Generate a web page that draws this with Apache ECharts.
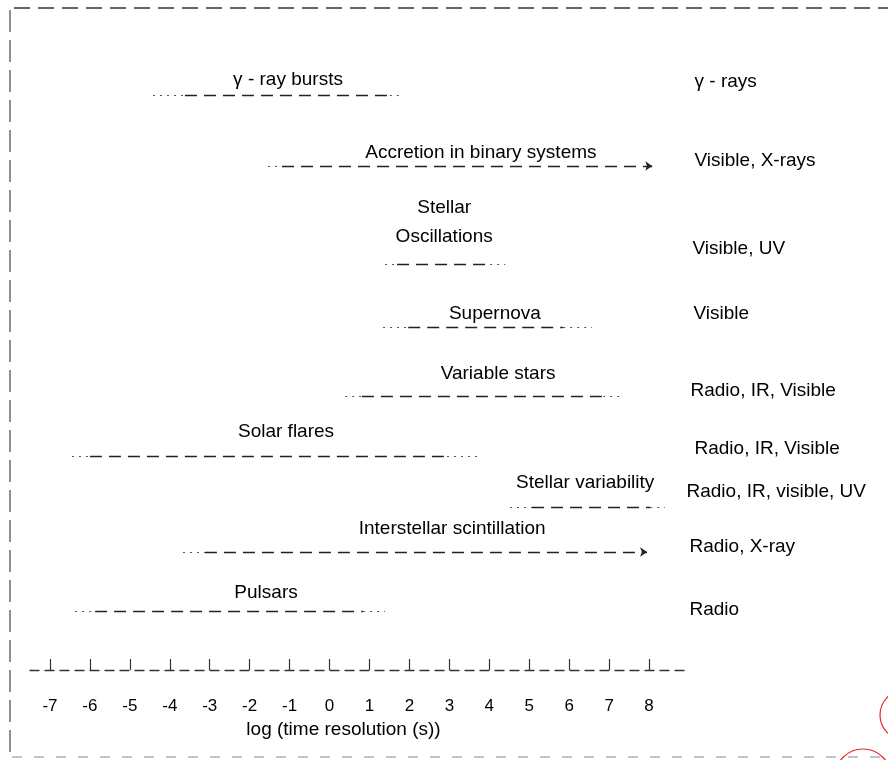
<!DOCTYPE html>
<html>
<head>
<meta charset="utf-8">
<script src="https://cdn.jsdelivr.net/npm/echarts@6/dist/echarts.min.js"></script>
<style>html,body{margin:0;padding:0;background:#fff}#c{width:888px;height:760px}</style>
</head>
<body>
<div id="c"></div>
<script>
// ---- data (log10 of time resolution in seconds) ----
const phenomena = ['γ - ray bursts', 'Accretion in binary systems', 'Stellar\nOscillations', 'Supernova',
  'Variable stars', 'Solar flares', 'Stellar variability', 'Interstellar scintillation', 'Pulsars'];
const bands = ['γ - rays', 'Visible, X-rays', 'Visible, UV', 'Visible', 'Radio, IR, Visible',
  'Radio, IR, Visible', 'Radio, IR, visible, UV', 'Radio, X-ray', 'Radio'];
const dotStart  = [-4.42, -1.54, 1.39, 1.34, 0.39, -6.45, 4.52, -3.67, -6.37];
const dashStart = [-3.62, -1.19, 1.69, 1.97, 0.81, -6.00, 5.07, -3.12, -5.87];
const dashEnd   = [1.51, 8.08, 4.02, 5.85, 6.85, 2.94, 8.03, 7.95, 0.84];
const dotEnd    = [1.84, null, 4.40, 6.57, 7.35, 3.77, 8.40, null, 1.39];
const openEnded = [false, true, false, false, false, false, false, true, false];
const tickValues = [-7, -6, -5, -4, -3, -2, -1, 0, 1, 2, 3, 4, 5, 6, 7, 8];
const axisName = 'log (time resolution (s))';

// ---- layout (vertical row levels, label anchors) ----
const rowLevel   = [95, 166, 264, 327, 396, 456, 507, 552, 611];
const labelLevel = [80, 153, 222, 314, 374, 432, 483, 529, 593];
const labelAt    = [-1.04, 3.79, 2.87, 4.14, 4.22, -1.09, 6.40, 3.07, -1.59];
const bandLevel  = [82, 161, 249, 314, 391, 449, 492, 547, 610];
const bandShift  = [5, 5, 3, 4, 1, 5, -3, 0, 0];
const X_MIN = -7.5, X_MAX = 9;

const FONT = '"Liberation Sans", Arial, sans-serif';
const INK = '#000';

const dashed = [], dashedArrow = [], dotted = [];
for (let i = 0; i < phenomena.length; i++) {
  const y = rowLevel[i];
  dotted.push({ coords: [[dotStart[i], y], [dashStart[i], y]] });
  (openEnded[i] ? dashedArrow : dashed).push({ coords: [[dashStart[i], y], [dashEnd[i], y]] });
  if (dotEnd[i] != null) dotted.push({ coords: [[dashEnd[i], y], [dotEnd[i], y]] });
}
const labelData = phenomena.map((p, i) => ({ value: [labelAt[i], labelLevel[i]], name: p }));
const bandData = bands.map((b, i) => ({ value: [X_MAX, bandLevel[i]], name: b,
  label: { offset: [bandShift[i], 0] } }));

const textStyle = { fontFamily: FONT, fontSize: 19, color: INK, opacity: 1,
  textBorderWidth: 0, textShadowBlur: 0 };

const chart = echarts.init(document.getElementById('c'), null, { renderer: 'canvas' });
chart.setOption({
  animation: false,
  backgroundColor: '#ffffff',
  grid: { left: 30, right: 199, top: 0, bottom: 90 },
  xAxis: {
    type: 'value', min: X_MIN, max: X_MAX, position: 'bottom',
    name: axisName, nameLocation: 'middle', nameGap: 48,
    nameTextStyle: { fontFamily: FONT, fontSize: 19, color: INK, padding: [0, 32, 0, 0] },
    axisLine: { show: true, onZero: false, lineStyle: { color: '#333', width: 1.3, type: [9, 6] } },
    axisTick: { show: true, inside: true, length: 11, customValues: tickValues,
      lineStyle: { color: '#333', width: 1.2 } },
    axisLabel: { customValues: tickValues, margin: 28, fontFamily: FONT, fontSize: 17, color: INK,
      formatter: v => String(v) },
    splitLine: { show: false }
  },
  yAxis: { type: 'value', min: 0, max: 670, inverse: true, show: false },
  series: [
    { type: 'lines', coordinateSystem: 'cartesian2d', data: dashed, symbol: ['none', 'none'],
      lineStyle: { color: '#222', width: 1.4, type: [12, 7], opacity: 1 } },
    { type: 'lines', coordinateSystem: 'cartesian2d', data: dashedArrow,
      symbol: ['none', 'arrow'], symbolSize: 7,
      lineStyle: { color: '#222', width: 1.4, type: [12, 7], opacity: 1 } },
    { type: 'lines', coordinateSystem: 'cartesian2d', data: dotted, symbol: ['none', 'none'],
      lineStyle: { color: '#555', width: 1.2, type: [2, 5], opacity: 1 } },
    { type: 'scatter', data: labelData, symbolSize: 1, itemStyle: { color: 'rgba(0,0,0,0)' },
      label: Object.assign({ show: true, position: 'inside', formatter: p => p.name,
        lineHeight: 29, align: 'center', verticalAlign: 'middle' }, textStyle) },
    { type: 'scatter', data: bandData, symbolSize: 1, itemStyle: { color: 'rgba(0,0,0,0)' },
      label: Object.assign({ show: true, position: 'right', distance: 0, formatter: p => p.name,
        align: 'left', verticalAlign: 'middle' }, textStyle) }
  ],
  graphic: [
    { type: 'line', shape: { x1: 14, y1: 8, x2: 888, y2: 8 },
      style: { stroke: '#333', lineWidth: 1.3, lineDash: [16, 8] } },
    { type: 'line', shape: { x1: 10, y1: 10, x2: 10, y2: 760 },
      style: { stroke: '#333', lineWidth: 1.1, lineDash: [22, 8] } },
    { type: 'line', shape: { x1: 12, y1: 757, x2: 888, y2: 757 },
      style: { stroke: '#888', lineWidth: 1.2, lineDash: [10, 12] } },
    { type: 'circle', shape: { cx: 905, cy: 715, r: 25 },
      style: { fill: 'none', stroke: '#e8262b', lineWidth: 1.2 } },
    { type: 'circle', shape: { cx: 863, cy: 777, r: 28 },
      style: { fill: 'none', stroke: '#e8262b', lineWidth: 1.2 } }
  ]
});
</script>
</body>
</html>
